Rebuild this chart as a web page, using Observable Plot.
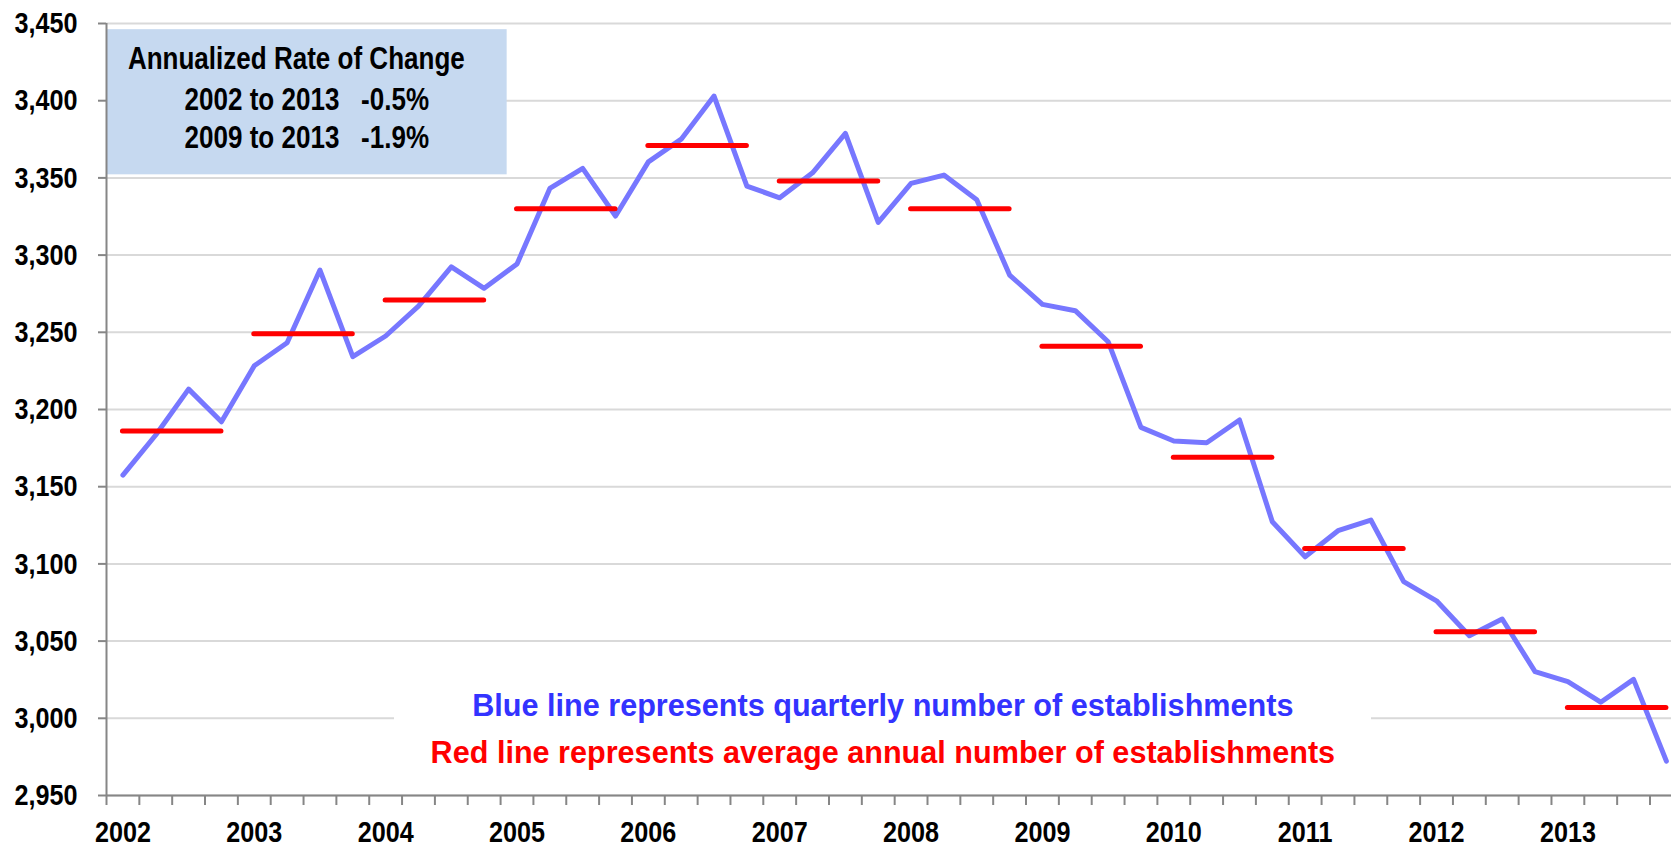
<!DOCTYPE html>
<html>
<head>
<meta charset="utf-8">
<script src="https://cdn.jsdelivr.net/npm/d3@7"></script>
<script src="https://cdn.jsdelivr.net/npm/@observablehq/plot@0.6"></script>
<style>
html, body { margin: 0; padding: 0; background: #fff; overflow: hidden; }
#chart svg { display: block; }
</style>
</head>
<body>
<div id="chart"></div>
<script>
// ---- data ----
const years = ["2002","2003","2004","2005","2006","2007","2008","2009","2010","2011","2012","2013"];
const quarterly = [
  3157.5, 3183.5, 3213.2, 3192.0,
  3228.3, 3243.2, 3290.3, 3234.2,
  3247.6, 3267.0, 3292.4, 3278.5,
  3294.2, 3343.2, 3356.2, 3325.3,
  3360.4, 3375.1, 3403.0, 3344.7,
  3337.1, 3353.3, 3378.8, 3321.2,
  3346.5, 3351.8, 3335.8, 3287.1,
  3268.1, 3264.0, 3243.9, 3188.4,
  3179.6, 3178.5, 3193.2, 3127.3,
  3104.6, 3121.5, 3128.4, 3088.5,
  3076.1, 3053.5, 3064.3, 3030.2,
  3023.7, 3010.4, 3025.2, 2972.3
];
const annual = [3186, 3249, 3271, 3330, 3371, 3348, 3330, 3241, 3169, 3110, 3056, 3007];
const yTicks = [2950, 3000, 3050, 3100, 3150, 3200, 3250, 3300, 3350, 3400, 3450];
const boxText = ["Annualized Rate of Change", "2002 to 2013   -0.5%", "2009 to 2013   -1.9%"];
const noteText = ["Blue line represents quarterly number of establishments",
                  "Red line represents average annual number of establishments"];

// ---- font detection ----
function fontAvailable(name) {
  const ctx = document.createElement("canvas").getContext("2d");
  const s = "Annualized Rate of Change 3,450 2002";
  ctx.font = "bold 30px monospace";
  const w1 = ctx.measureText(s).width;
  ctx.font = `bold 30px "${name}", monospace`;
  const w2 = ctx.measureText(s).width;
  return Math.abs(w1 - w2) > 1;
}
const hasNarrow = fontAvailable("Liberation Sans Narrow");
const NARROW = hasNarrow ? '"Liberation Sans Narrow", "Arial Narrow", sans-serif' : '"Liberation Sans", Arial, sans-serif';
const WIDE = '"Liberation Sans", Arial, sans-serif';

const qData = quarterly.map((v, i) => ({q: i + 0.5, v}));
const aData = annual.map((v, i) => ({x1: i * 4 + 0.5, x2: i * 4 + 3.5, v}));
const quarterEdges = d3.range(0, quarterly.length);
const yearCenters = years.map((_, i) => i * 4 + 0.5);

const plot = Plot.plot({
  width: 1671,
  height: 849,
  marginLeft: 106,
  marginRight: 0,
  marginTop: 23,
  marginBottom: 54,
  style: {background: "white", fontFamily: WIDE},
  x: {domain: [0, 47.655], label: null},
  y: {domain: [2950, 3450], label: null},
  marks: [
    Plot.gridY(yTicks, {stroke: "#d9d9d9", strokeOpacity: 1, strokeWidth: 2}),
    // annotation box
    Plot.rect([boxText], {x1: 0, x2: 12.2, y1: 3352, y2: 3446, fill: "#c6d9f0"}),
    // white background behind the note
    Plot.rect([noteText], {x1: 8.77, x2: 38.52, y1: 2960, y2: 3038, fill: "white"}),
    // axis lines
    Plot.ruleX([0], {y1: 2950, y2: 3450, stroke: "#868686", strokeWidth: 2}),
    Plot.ruleY([2950], {x1: 0, x2: 47.655, stroke: "#868686", strokeWidth: 2}),
    Plot.axisY(yTicks, {
      tickSize: 8, tickPadding: 21, tickFormat: d3.format(","),
      fontSize: 30, fontWeight: "bold", fill: "black",
      stroke: "#868686", strokeWidth: 2, label: null, fontFamily: NARROW,
      ariaDescription: "narrow"
    }),
    Plot.axisX(quarterEdges, {
      tickSize: 10, tickFormat: () => "", stroke: "#868686", strokeWidth: 2, label: null
    }),
    Plot.axisX(yearCenters, {
      tickSize: 0, tickPadding: 25, tickFormat: d => years[Math.round((d - 0.5) / 4)],
      fontSize: 30, fontWeight: "bold", fill: "black", label: null, fontFamily: NARROW,
      ariaDescription: "narrow"
    }),
    // quarterly line
    Plot.line(qData, {x: "q", y: "v", stroke: "#7777ff", strokeWidth: 5,
      strokeLinejoin: "round", strokeLinecap: "round"}),
    // annual averages
    Plot.ruleY(aData, {y: "v", x1: "x1", x2: "x2", stroke: "#ff0000", strokeWidth: 5,
      strokeLinecap: "round"}),
    // box text
    Plot.text([boxText[0]], {x: 5.78, y: 3426.7, text: d => d, fontSize: 31, fontWeight: "bold",
      fill: "black", fontFamily: NARROW, ariaDescription: "narrow"}),
    Plot.text([boxText[1]], {x: 6.10, y: 3400.3, text: d => d, fontSize: 31, fontWeight: "bold",
      fill: "black", fontFamily: NARROW, ariaDescription: "narrow"}),
    Plot.text([boxText[2]], {x: 6.10, y: 3375.5, text: d => d, fontSize: 31, fontWeight: "bold",
      fill: "black", fontFamily: NARROW, ariaDescription: "narrow"}),
    // note text
    Plot.text([noteText[0]], {x: 23.64, y: 3007.8, text: d => d, fontSize: 30.6, fontWeight: "bold",
      fill: "#3333ff", fontFamily: WIDE}),
    Plot.text([noteText[1]], {x: 23.64, y: 2977.2, text: d => d, fontSize: 30.6, fontWeight: "bold",
      fill: "#ff0000", fontFamily: WIDE})
  ]
});

document.getElementById("chart").appendChild(plot);

// emulate a narrow face if Liberation Sans Narrow is absent:
// append a horizontal squeeze after Plot's own translate (the em-based y offset is kept)
if (!hasNarrow) {
  plot.querySelectorAll('[aria-description="narrow"] text').forEach(el => {
    const t = el.getAttribute("transform") || "";
    el.setAttribute("transform", `${t} scale(0.84,1)`);
  });
}
</script>
</body>
</html>
